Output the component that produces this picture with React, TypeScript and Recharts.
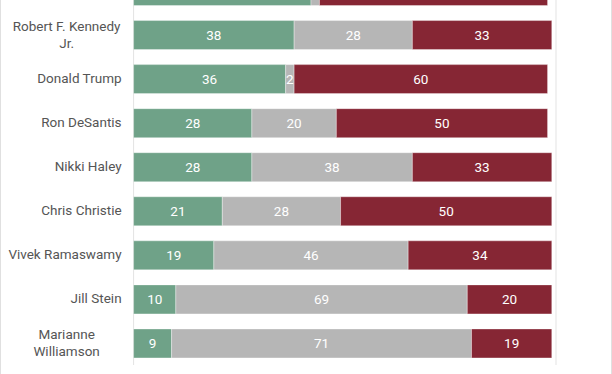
import React from 'react';
import { BarChart, Bar, XAxis, YAxis, CartesianGrid, LabelList } from 'recharts';

const candidates = [
  'Joe Biden',
  'Robert F. Kennedy\nJr.',
  'Donald Trump',
  'Ron DeSantis',
  'Nikki Haley',
  'Chris Christie',
  'Vivek Ramaswamy',
  'Jill Stein',
  'Marianne\nWilliamson',
];
const favorable = [42, 38, 36, 28, 28, 21, 19, 10, 9];
const noOpinion = [2, 28, 2, 20, 38, 28, 46, 69, 71];
const unfavorable = [54, 33, 60, 50, 33, 50, 34, 20, 19];
const xTicks = [0, 25, 50, 75, 100];

const data = candidates.map((name, i) => ({
  name,
  favorable: favorable[i],
  noOpinion: noOpinion[i],
  unfavorable: unfavorable[i],
}));

const NameTick = (props: any) => {
  const { x, y, payload } = props;
  const lines: string[] = String(payload.value).split('\n');
  const multi = lines.length > 1;
  return (
    <text
      x={multi ? x - 55 : x}
      y={y}
      textAnchor={multi ? 'middle' : 'end'}
      fill="#555"
      fontSize={13.5}
      fontFamily="Roboto"
    >
      {lines.map((l, i) => (
        <tspan key={i} x={multi ? x - 55 : x} dy={i === 0 ? (multi ? -4 : 4.5) : 17}>
          {l}
        </tspan>
      ))}
    </text>
  );
};

const labelStyle = { fill: '#fff', fontSize: 13.5, fontFamily: 'Roboto' };

export default function App() {
  return (
    <div
      style={{
        position: 'fixed',
        top: 0,
        left: 0,
        width: 612,
        height: 374,
        overflow: 'hidden',
        background: '#fff',
        boxSizing: 'border-box',
        borderLeft: '1px solid #e0e0e0',
        borderRight: '1px solid #e0e0e0',
      }}
    >
      <div style={{ position: 'absolute', top: -40, left: -1 }}>
        <BarChart
          width={612}
          height={445}
          data={data}
          layout="vertical"
          margin={{ top: 8.5, right: 56, bottom: 10, left: 0 }}
          barSize={29}
        >
          <CartesianGrid horizontal={false} stroke="#e3e3e3" />
          <XAxis
            type="number"
            domain={[0, 100]}
            ticks={xTicks}
            axisLine={false}
            tickLine={false}
            height={30}
            tick={false}
          />
          <YAxis
            type="category"
            dataKey="name"
            width={133.6}
            axisLine={false}
            tickLine={false}
            tickMargin={6}
            interval={0}
            tick={<NameTick />}
          />
          <Bar dataKey="favorable" stackId="a" fill="#6fa288" stroke="rgba(255,255,255,0.35)" isAnimationActive={false}>
            <LabelList dataKey="favorable" position="center" style={labelStyle} />
          </Bar>
          <Bar dataKey="noOpinion" stackId="a" fill="#b6b6b6" stroke="rgba(255,255,255,0.35)" isAnimationActive={false}>
            <LabelList dataKey="noOpinion" position="center" style={labelStyle} />
          </Bar>
          <Bar dataKey="unfavorable" stackId="a" fill="#862634" stroke="rgba(255,255,255,0.35)" isAnimationActive={false}>
            <LabelList dataKey="unfavorable" position="center" style={labelStyle} />
          </Bar>
        </BarChart>
      </div>
    </div>
  );
}
